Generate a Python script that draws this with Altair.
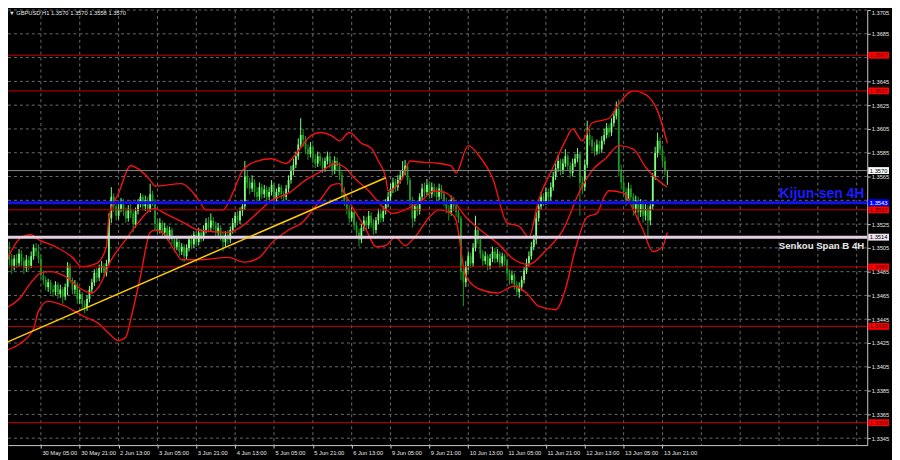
import json
import altair as alt
import pandas as pd

# ---------------- data ----------------
symbol_title = "\u25bc GBPUSD,H1  1.3570 1.3570 1.3558 1.3570"

first_open = 1.3480
closes = [
    1.3470, 1.3485, 1.3500, 1.3495, 1.3490, 1.3496, 1.3492, 1.3500, 1.3494, 1.3488,
    1.3495, 1.3490, 1.3498, 1.3505, 1.3502, 1.3496, 1.3482, 1.3478, 1.3472, 1.3476,
    1.3470, 1.3468, 1.3474, 1.3466, 1.3470, 1.3464, 1.3472, 1.3490, 1.3478, 1.3470,
    1.3474, 1.3462, 1.3466, 1.3458, 1.3455, 1.3462, 1.3470, 1.3476, 1.3484, 1.3480,
    1.3488, 1.3490, 1.3484, 1.3492, 1.3530, 1.3548, 1.3540, 1.3532, 1.3538, 1.3544,
    1.3536, 1.3530, 1.3538, 1.3534, 1.3525, 1.3536, 1.3542, 1.3548, 1.3540, 1.3545,
    1.3538, 1.3550, 1.3544, 1.3525, 1.3520, 1.3526, 1.3518, 1.3522, 1.3515, 1.3520,
    1.3512, 1.3506, 1.3510, 1.3502, 1.3506, 1.3498, 1.3505, 1.3512, 1.3508, 1.3516,
    1.3510, 1.3518, 1.3514, 1.3520, 1.3526, 1.3522, 1.3528, 1.3524, 1.3518, 1.3522,
    1.3515, 1.3510, 1.3516, 1.3512, 1.3520, 1.3526, 1.3532, 1.3528, 1.3536, 1.3540,
    1.3565, 1.3560, 1.3555, 1.3560, 1.3552, 1.3548, 1.3556, 1.3550, 1.3554, 1.3548,
    1.3552, 1.3558, 1.3546, 1.3552, 1.3556, 1.3550, 1.3548, 1.3555, 1.3562, 1.3570,
    1.3575, 1.3582, 1.3592, 1.3600, 1.3596, 1.3588, 1.3584, 1.3590, 1.3580, 1.3576,
    1.3582, 1.3578, 1.3572, 1.3578, 1.3582, 1.3576, 1.3570, 1.3578, 1.3574, 1.3566,
    1.3552, 1.3545, 1.3538, 1.3530, 1.3535, 1.3524, 1.3518, 1.3512, 1.3522, 1.3528,
    1.3524, 1.3532, 1.3526, 1.3520, 1.3528, 1.3534, 1.3530, 1.3536, 1.3542, 1.3548,
    1.3555, 1.3560, 1.3556, 1.3562, 1.3566, 1.3570, 1.3574, 1.3562, 1.3545, 1.3530,
    1.3540, 1.3536, 1.3548, 1.3555, 1.3552, 1.3558, 1.3550, 1.3556, 1.3552, 1.3548,
    1.3555, 1.3550, 1.3544, 1.3538, 1.3535, 1.3545, 1.3540, 1.3535, 1.3530, 1.3485,
    1.3476, 1.3490, 1.3498, 1.3492, 1.3505, 1.3520, 1.3512, 1.3500, 1.3494, 1.3498,
    1.3490, 1.3496, 1.3502, 1.3496, 1.3500, 1.3492, 1.3498, 1.3494, 1.3484, 1.3478,
    1.3482, 1.3474, 1.3468, 1.3472, 1.3478, 1.3486, 1.3492, 1.3498, 1.3506, 1.3512,
    1.3530, 1.3540, 1.3548, 1.3544, 1.3552, 1.3548, 1.3556, 1.3565, 1.3572, 1.3578,
    1.3570, 1.3576, 1.3582, 1.3574, 1.3568, 1.3576, 1.3580, 1.3584, 1.3560, 1.3556,
    1.3575, 1.3600, 1.3596, 1.3590, 1.3586, 1.3592, 1.3588, 1.3595, 1.3600, 1.3606,
    1.3602, 1.3610, 1.3616, 1.3622, 1.3570, 1.3560, 1.3552, 1.3545, 1.3555, 1.3548,
    1.3538, 1.3545, 1.3535, 1.3542, 1.3532, 1.3538, 1.3528, 1.3540, 1.3565, 1.3585,
    1.3595, 1.3588, 1.3578, 1.3570, 1.3570,
]
highs = [
    1.3490, 1.3492, 1.3508, 1.3510, 1.3500, 1.3499, 1.3500, 1.3504, 1.3503, 1.3497,
    1.3499, 1.3498, 1.3502, 1.3508, 1.3509, 1.3508, 1.3499, 1.3486, 1.3481, 1.3479,
    1.3478, 1.3474, 1.3477, 1.3476, 1.3474, 1.3472, 1.3475, 1.3493, 1.3492, 1.3480,
    1.3478, 1.3476, 1.3470, 1.3468, 1.3461, 1.3465, 1.3473, 1.3479, 1.3487, 1.3488,
    1.3491, 1.3494, 1.3492, 1.3495, 1.3534, 1.3556, 1.3551, 1.3543, 1.3542, 1.3547,
    1.3546, 1.3539, 1.3541, 1.3545, 1.3537, 1.3539, 1.3546, 1.3551, 1.3550, 1.3549,
    1.3548, 1.3559, 1.3553, 1.3546, 1.3529, 1.3530, 1.3528, 1.3526, 1.3524, 1.3523,
    1.3522, 1.3515, 1.3514, 1.3512, 1.3509, 1.3508, 1.3508, 1.3515, 1.3516, 1.3519,
    1.3518, 1.3522, 1.3521, 1.3524, 1.3530, 1.3531, 1.3534, 1.3531, 1.3527, 1.3526,
    1.3524, 1.3518, 1.3519, 1.3520, 1.3523, 1.3530, 1.3535, 1.3536, 1.3539, 1.3544,
    1.3578, 1.3570, 1.3564, 1.3566, 1.3563, 1.3556, 1.3560, 1.3559, 1.3558, 1.3557,
    1.3556, 1.3562, 1.3560, 1.3555, 1.3559, 1.3558, 1.3553, 1.3558, 1.3566, 1.3574,
    1.3580, 1.3586, 1.3597, 1.3614, 1.3605, 1.3599, 1.3592, 1.3594, 1.3592, 1.3584,
    1.3586, 1.3585, 1.3581, 1.3581, 1.3586, 1.3585, 1.3579, 1.3582, 1.3581, 1.3577,
    1.3569, 1.3556, 1.3548, 1.3541, 1.3539, 1.3538, 1.3527, 1.3521, 1.3525, 1.3532,
    1.3531, 1.3536, 1.3535, 1.3529, 1.3531, 1.3538, 1.3537, 1.3540, 1.3546, 1.3552,
    1.3559, 1.3564, 1.3563, 1.3566, 1.3570, 1.3578, 1.3579, 1.3576, 1.3564, 1.3548,
    1.3544, 1.3545, 1.3551, 1.3559, 1.3560, 1.3563, 1.3561, 1.3560, 1.3559, 1.3556,
    1.3559, 1.3558, 1.3553, 1.3547, 1.3541, 1.3549, 1.3548, 1.3543, 1.3538, 1.3532,
    1.3490, 1.3494, 1.3502, 1.3501, 1.3509, 1.3532, 1.3523, 1.3514, 1.3503, 1.3502,
    1.3500, 1.3500, 1.3506, 1.3505, 1.3504, 1.3502, 1.3501, 1.3500, 1.3496, 1.3487,
    1.3486, 1.3484, 1.3477, 1.3476, 1.3481, 1.3489, 1.3496, 1.3502, 1.3510, 1.3516,
    1.3535, 1.3544, 1.3552, 1.3551, 1.3556, 1.3555, 1.3560, 1.3569, 1.3576, 1.3583,
    1.3580, 1.3580, 1.3588, 1.3584, 1.3577, 1.3580, 1.3584, 1.3589, 1.3586, 1.3565,
    1.3579, 1.3612, 1.3605, 1.3599, 1.3594, 1.3596, 1.3595, 1.3599, 1.3605, 1.3610,
    1.3609, 1.3614, 1.3620, 1.3628, 1.3630, 1.3575, 1.3566, 1.3556, 1.3560, 1.3558,
    1.3551, 1.3549, 1.3548, 1.3546, 1.3545, 1.3542, 1.3541, 1.3544, 1.3568, 1.3590,
    1.3602, 1.3598, 1.3591, 1.3582, 1.3570,
]
lows = [
    1.3458, 1.3462, 1.3480, 1.3490, 1.3483, 1.3486, 1.3488, 1.3489, 1.3490, 1.3483,
    1.3485, 1.3486, 1.3488, 1.3495, 1.3498, 1.3492, 1.3479, 1.3474, 1.3469, 1.3468,
    1.3466, 1.3464, 1.3465, 1.3462, 1.3463, 1.3458, 1.3461, 1.3465, 1.3475, 1.3466,
    1.3466, 1.3458, 1.3458, 1.3453, 1.3450, 1.3452, 1.3459, 1.3467, 1.3473, 1.3476,
    1.3477, 1.3484, 1.3480, 1.3481, 1.3490, 1.3526, 1.3535, 1.3528, 1.3529, 1.3535,
    1.3532, 1.3526, 1.3527, 1.3530, 1.3518, 1.3522, 1.3533, 1.3539, 1.3537, 1.3536,
    1.3534, 1.3535, 1.3540, 1.3520, 1.3516, 1.3517, 1.3514, 1.3515, 1.3511, 1.3512,
    1.3508, 1.3502, 1.3503, 1.3498, 1.3499, 1.3493, 1.3495, 1.3502, 1.3504, 1.3505,
    1.3506, 1.3507, 1.3510, 1.3511, 1.3517, 1.3518, 1.3519, 1.3520, 1.3514, 1.3515,
    1.3511, 1.3502, 1.3506, 1.3508, 1.3509, 1.3517, 1.3522, 1.3524, 1.3525, 1.3532,
    1.3537, 1.3555, 1.3550, 1.3552, 1.3548, 1.3544, 1.3545, 1.3546, 1.3547, 1.3544,
    1.3545, 1.3549, 1.3541, 1.3543, 1.3549, 1.3546, 1.3544, 1.3545, 1.3552, 1.3559,
    1.3566, 1.3572, 1.3579, 1.3589, 1.3590, 1.3584, 1.3579, 1.3581, 1.3576, 1.3572,
    1.3573, 1.3574, 1.3568, 1.3569, 1.3575, 1.3572, 1.3566, 1.3567, 1.3570, 1.3562,
    1.3548, 1.3540, 1.3533, 1.3526, 1.3527, 1.3520, 1.3513, 1.3506, 1.3509, 1.3519,
    1.3520, 1.3521, 1.3522, 1.3516, 1.3517, 1.3525, 1.3526, 1.3527, 1.3533, 1.3539,
    1.3545, 1.3551, 1.3552, 1.3553, 1.3559, 1.3563, 1.3566, 1.3558, 1.3540, 1.3522,
    1.3527, 1.3532, 1.3533, 1.3545, 1.3548, 1.3549, 1.3546, 1.3547, 1.3548, 1.3544,
    1.3545, 1.3546, 1.3540, 1.3534, 1.3528, 1.3532, 1.3536, 1.3531, 1.3526, 1.3478,
    1.3456, 1.3472, 1.3486, 1.3488, 1.3489, 1.3502, 1.3508, 1.3496, 1.3490, 1.3491,
    1.3486, 1.3487, 1.3493, 1.3492, 1.3493, 1.3488, 1.3489, 1.3490, 1.3480, 1.3474,
    1.3475, 1.3470, 1.3465, 1.3463, 1.3469, 1.3475, 1.3483, 1.3489, 1.3495, 1.3503,
    1.3508, 1.3527, 1.3537, 1.3540, 1.3541, 1.3544, 1.3545, 1.3553, 1.3562, 1.3569,
    1.3566, 1.3567, 1.3573, 1.3570, 1.3564, 1.3565, 1.3573, 1.3577, 1.3532, 1.3550,
    1.3553, 1.3572, 1.3591, 1.3586, 1.3582, 1.3583, 1.3584, 1.3585, 1.3592, 1.3597,
    1.3598, 1.3599, 1.3607, 1.3613, 1.3565, 1.3554, 1.3548, 1.3540, 1.3542, 1.3544,
    1.3532, 1.3534, 1.3528, 1.3531, 1.3526, 1.3528, 1.3515, 1.3524, 1.3537, 1.3562,
    1.3581, 1.3583, 1.3574, 1.3566, 1.3558,
]

# Bollinger-style envelope (red curves), read at sparse bars
upper_idx = [0, 4, 8, 12, 15, 22, 29, 33, 39, 43, 44, 48, 53, 57, 61, 63, 74, 78, 81, 84,
             91, 95, 99, 105, 111, 117, 121, 127, 131, 136, 139, 143, 148, 152, 155, 158,
             159, 162, 165, 168, 173, 180, 185, 187, 192, 197, 202, 208, 213, 217, 221,
             227, 232, 235, 239, 243, 250, 254, 260, 265, 270, 274]
upper_val = [1.3484, 1.3503, 1.3514, 1.3516, 1.3512, 1.3506, 1.3497, 1.3489, 1.3492, 1.3506,
             1.3531, 1.3551, 1.3574, 1.3570, 1.3562, 1.3557, 1.3559, 1.3553, 1.3545, 1.3537,
             1.3537, 1.3551, 1.3570, 1.3578, 1.3580, 1.3576, 1.3584, 1.3599, 1.3602, 1.3599,
             1.3595, 1.3602, 1.3593, 1.3589, 1.3578, 1.3564, 1.3553, 1.3556, 1.3564, 1.3578,
             1.3577, 1.3576, 1.3574, 1.3568, 1.3591, 1.3581, 1.3564, 1.3526, 1.3523, 1.3514,
             1.3545, 1.3573, 1.3595, 1.3605, 1.3595, 1.3610, 1.3614, 1.3626, 1.3637, 1.3634,
             1.3620, 1.3593]
mid_idx = [0, 7, 12, 16, 20, 26, 33, 37, 40, 45, 51, 56, 61, 63, 67, 74, 81, 93, 98, 105,
           111, 118, 125, 132, 137, 141, 145, 151, 157, 161, 168, 173, 178, 183, 191, 197,
           204, 211, 217, 224, 231, 238, 243, 249, 254, 260, 265, 269, 274]
mid_val = [1.3453, 1.3462, 1.3476, 1.3484, 1.3485, 1.3481, 1.3470, 1.3467, 1.3473, 1.3495,
           1.3512, 1.3526, 1.3537, 1.3538, 1.3534, 1.3527, 1.3520, 1.3518, 1.3522, 1.3534,
           1.3545, 1.3551, 1.3562, 1.3570, 1.3576, 1.3573, 1.3564, 1.3553, 1.3539, 1.3534,
           1.3539, 1.3545, 1.3553, 1.3551, 1.3531, 1.3520, 1.3509, 1.3495, 1.3491, 1.3503,
           1.3520, 1.3553, 1.3570, 1.3581, 1.3591, 1.3588, 1.3573, 1.3564, 1.3556]
lower_idx = [0, 7, 13, 15, 19, 26, 33, 40, 44, 48, 51, 53, 57, 61, 63, 66, 71, 74, 81, 93,
             100, 106, 111, 118, 124, 128, 132, 136, 139, 141, 145, 150, 154, 158, 162, 166,
             170, 176, 180, 185, 187, 191, 197, 204, 211, 216, 221, 228, 232, 236, 241, 245,
             248, 250, 256, 260, 264, 268, 272, 274]
lower_val = [1.3418, 1.3424, 1.3437, 1.3452, 1.3460, 1.3456, 1.3448, 1.3441, 1.3433, 1.3427,
             1.3430, 1.3445, 1.3481, 1.3518, 1.3520, 1.3518, 1.3503, 1.3495, 1.3495, 1.3497,
             1.3493, 1.3497, 1.3509, 1.3520, 1.3527, 1.3537, 1.3548, 1.3558, 1.3559, 1.3551,
             1.3537, 1.3520, 1.3506, 1.3507, 1.3514, 1.3507, 1.3514, 1.3531, 1.3537, 1.3534,
             1.3528, 1.3481, 1.3470, 1.3467, 1.3473, 1.3467, 1.3456, 1.3453, 1.3470, 1.3503,
             1.3531, 1.3534, 1.3548, 1.3553, 1.3551, 1.3537, 1.3520, 1.3502, 1.3506, 1.3518]

# yellow trend line (bar index, price) at both ends
trend_idx = [-1, 158]
trend_val = [1.3423, 1.3564]

red_levels = [1.3667, 1.3637, 1.3537, 1.3489, 1.3439, 1.3358]
kijun_level = 1.3543
senkou_level = 1.3514
last_price = 1.3570

price_ticks = [1.3705, 1.3685, 1.3645, 1.3625, 1.3605, 1.3585, 1.3565, 1.3525, 1.3505,
               1.3485, 1.3465, 1.3445, 1.3425, 1.3405, 1.3385, 1.3365, 1.3345]
grid_prices = [1.3705, 1.3685, 1.3665, 1.3645, 1.3625, 1.3605, 1.3585, 1.3565, 1.3545,
               1.3525, 1.3505, 1.3485, 1.3465, 1.3445, 1.3425, 1.3405, 1.3385, 1.3365, 1.3345]
time_labels = ["29 May 2025", "30 May 05:00", "30 May 21:00", "2 Jun 13:00", "3 Jun 05:00",
               "3 Jun 21:00", "4 Jun 13:00", "5 Jun 05:00", "5 Jun 21:00", "6 Jun 13:00",
               "9 Jun 05:00", "9 Jun 21:00", "10 Jun 13:00", "11 Jun 05:00", "11 Jun 21:00",
               "12 Jun 13:00", "13 Jun 05:00", "13 Jun 21:00"]
time_label_idx = [0, 16, 32, 48, 64, 80, 96, 112, 128, 144, 160, 176, 192, 208, 224, 240, 256, 272]
grid_idx = [16, 32, 48, 64, 80, 96, 112, 128, 144, 160, 176, 192, 208, 224, 240, 256, 272,
            288, 304, 320, 336, 352]

# ---------------- styling ----------------
BG = "#000000"
GRID = "#6a6a6a"
AXIS = "#c8c8c8"
TXT = "#e6e6e6"
FONT = "Liberation Sans"
BULL = "#7dff7d"
BEAR = "#1f9a1f"
BAND = "#f51212"
W = 867          # plot width (page x 8 .. 875)
H = 439          # plot height (page y 8 .. 447)

xs = alt.Scale(domain=[2.449, 356.33], nice=False, zero=False)
ys = alt.Scale(domain=[1.333917, 1.3705], nice=False, zero=False)

n = len(closes)
opens = [first_open] + closes[:-1]
candles = pd.DataFrame({"i": list(range(n)), "open": opens, "high": highs,
                        "low": lows, "close": closes})
candles["dir"] = ["up" if c >= o else "down" for o, c in zip(opens, closes)]

bands = pd.concat([
    pd.DataFrame({"i": upper_idx, "p": upper_val, "band": "upper"}),
    pd.DataFrame({"i": mid_idx, "p": mid_val, "band": "mid"}),
    pd.DataFrame({"i": lower_idx, "p": lower_val, "band": "lower"}),
])

label_js = json.dumps(time_labels)
x_axis = alt.Axis(values=time_label_idx, labelExpr=f"{label_js}[round(datum.value/16)] || ''",
                  grid=False, domainColor=AXIS, tickColor=AXIS, tickSize=3,
                  labelColor=TXT, labelFont=FONT, labelFontSize=5.8, labelAlign="left",
                  labelBaseline="top", labelPadding=1, labelOffset=1, labelOverlap=False,
                  labelBound=False, title=None)
y_axis = alt.Axis(orient="right", values=price_ticks, format=".4f", grid=False,
                  domainColor=AXIS, tickColor=AXIS, tickSize=3, labelColor=TXT,
                  labelFont=FONT, labelFontSize=5.8, labelPadding=1, labelFlush=True,
                  labelOverlap=False, title=None)

xgrid = alt.Chart(pd.DataFrame({"i": grid_idx})).mark_rule(
    color=GRID, strokeDash=[3, 3], strokeWidth=1, clip=True).encode(
    x=alt.X("i:Q", scale=xs, axis=None))
ygrid = alt.Chart(pd.DataFrame({"p": grid_prices})).mark_rule(
    color=GRID, strokeDash=[3, 3], strokeWidth=1).encode(
    y=alt.Y("p:Q", scale=ys, axis=None))

cbase = alt.Chart(candles)
ccolor = alt.Color("dir:N", scale=alt.Scale(domain=["up", "down"], range=[BULL, BEAR]), legend=None)
wicks = cbase.mark_rule(strokeWidth=1, clip=True).encode(
    x=alt.X("i:Q", scale=xs, axis=x_axis),
    y=alt.Y("low:Q", scale=ys, axis=y_axis),
    y2="high:Q", color=ccolor)
bodies = cbase.mark_rule(strokeWidth=1.8, clip=True).encode(
    x=alt.X("i:Q", scale=xs, axis=None),
    y=alt.Y("open:Q", scale=ys, axis=None),
    y2="close:Q", color=ccolor)

band_lines = alt.Chart(bands).mark_line(color=BAND, strokeWidth=1.4, interpolate="monotone",
                                        clip=True).encode(
    x=alt.X("i:Q", scale=xs, axis=None),
    y=alt.Y("p:Q", scale=ys, axis=None),
    detail="band:N", order="i:Q")

def hline(value, color, width):
    return alt.Chart(pd.DataFrame({"p": [value]})).mark_rule(color=color, strokeWidth=width).encode(
        y=alt.Y("p:Q", scale=ys, axis=None))

price_line = hline(last_price, "#8a8a8a", 1)
red_lines = alt.Chart(pd.DataFrame({"p": red_levels})).mark_rule(color="#c80000", strokeWidth=1).encode(
    y=alt.Y("p:Q", scale=ys, axis=None))
senkou_line = hline(senkou_level, "#e4cfe4", 3)
kijun_line = hline(kijun_level, "#1010e8", 3)

trend = alt.Chart(pd.DataFrame({"i": trend_idx, "p": trend_val})).mark_line(
    color="#ffcc00", strokeWidth=1.5, clip=True).encode(
    x=alt.X("i:Q", scale=xs, axis=None), y=alt.Y("p:Q", scale=ys, axis=None))

# price tags on the right axis
tags = pd.DataFrame({
    "p": red_levels + [kijun_level, senkou_level, last_price],
    "fill": ["#ff0000"] * len(red_levels) + ["#0000ff", "#f2e4f2", "#ffffff"],
    "ink": ["#4a0000"] * len(red_levels) + ["#ffffff", "#000000", "#000000"],
})
tags["label"] = [f"{v:.4f}" for v in tags["p"]]
tag_box = alt.Chart(tags).transform_calculate(
    lo="datum.p - 0.00029", hi="datum.p + 0.00029").mark_rect().encode(
    x=alt.value(W + 1), x2=alt.value(W + 22),
    y=alt.Y("lo:Q", scale=ys, axis=None), y2="hi:Q",
    color=alt.Color("fill:N", scale=None))
tag_text = alt.Chart(tags).mark_text(font=FONT, fontSize=5.8, align="center",
                                     baseline="middle").encode(
    x=alt.value(W + 11.5), y=alt.Y("p:Q", scale=ys, axis=None),
    text="label:N", color=alt.Color("ink:N", scale=None))

kijun_text = alt.Chart(pd.DataFrame({"p": [kijun_level], "t": ["Kijun-sen 4H"]})).mark_text(
    font=FONT, fontSize=14, fontWeight="bold", color="#1c1cff", align="right",
    baseline="middle", dy=-9).encode(
    x=alt.value(W - 3), y=alt.Y("p:Q", scale=ys, axis=None), text="t:N")
senkou_text = alt.Chart(pd.DataFrame({"p": [senkou_level], "t": ["Senkou Span B 4H"]})).mark_text(
    font=FONT, fontSize=9.7, fontWeight="bold", color="#e8e8e8", align="right",
    baseline="middle", dy=8.5).encode(
    x=alt.value(W - 3), y=alt.Y("p:Q", scale=ys, axis=None), text="t:N")

title = alt.Chart(pd.DataFrame({"t": [symbol_title]})).mark_text(
    font=FONT, fontSize=5.8, color=TXT, align="left", baseline="middle").encode(
    x=alt.value(1), y=alt.value(3.5), text="t:N")

chart = alt.layer(
    xgrid, ygrid, wicks, bodies, band_lines, price_line, red_lines, senkou_line,
    kijun_line, trend, tag_box, tag_text, kijun_text, senkou_text, title
).resolve_axis(
    x="independent", y="independent"
).properties(
    width=W, height=H,
    padding={"left": 0, "top": 0, "right": 25, "bottom": 13},
    autosize=alt.AutoSizeParams(type="none"),
    background=BG,
).configure_view(stroke=None)

chart.save("out.html", embed_options={"renderer": "svg", "actions": False})
